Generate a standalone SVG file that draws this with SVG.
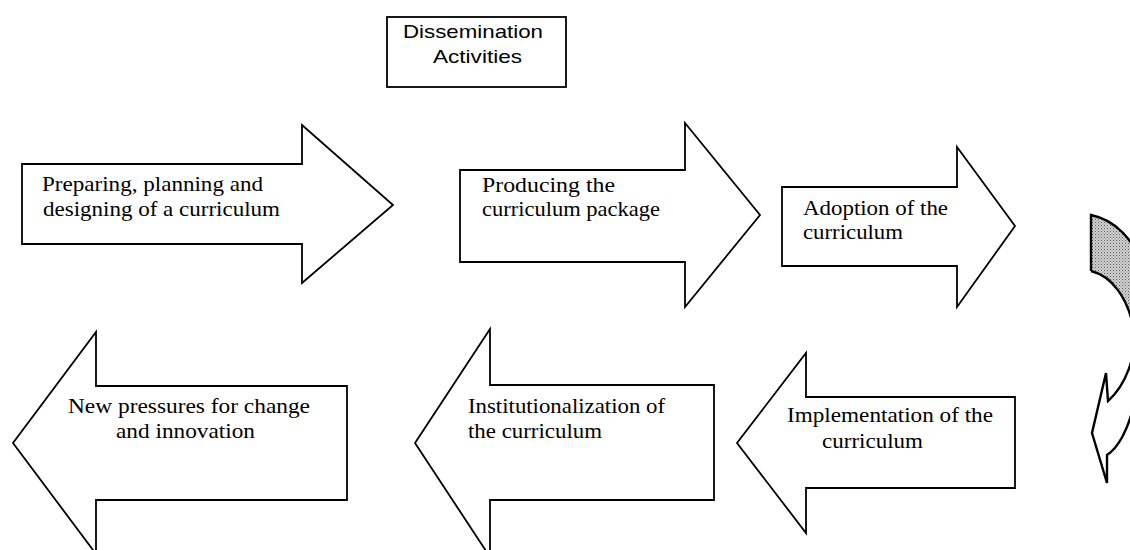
<svg xmlns="http://www.w3.org/2000/svg" width="1130" height="550" viewBox="0 0 1130 550">
  <defs>
    <!-- halftone shading for the back face of the curved arrow -->
    <pattern id="halftone" width="3" height="3" patternUnits="userSpaceOnUse">
      <rect width="3" height="3" fill="#d4d4d4"/>
      <rect x="0" y="0" width="1" height="1" fill="#555"/>
      <rect x="1.5" y="1.5" width="1" height="1" fill="#777"/>
    </pattern>
  </defs>
  <style>
    .block { fill: #ffffff; stroke: #000000; stroke-width: 1.8; stroke-linejoin: miter; }
    .label { font-family: "Liberation Serif", "Times New Roman", serif; font-size: 22px; fill: #000000; }
    .title { font-family: "Liberation Sans", Arial, sans-serif; font-size: 19px; fill: #000000; }
    .curve { fill: none; stroke: #000000; stroke-width: 2.4; stroke-linejoin: miter; }
  </style>
  <rect width="1130" height="550" fill="#ffffff"/>

  <g id="dissemination">
    <rect class="block" x="387" y="17" width="179" height="70"/>
    <text class="title" x="403" y="38" textLength="140" lengthAdjust="spacingAndGlyphs">Dissemination</text>
    <text class="title" x="433" y="63" textLength="89" lengthAdjust="spacingAndGlyphs">Activities</text>
  </g>

  <g id="preparing">
    <path class="block" d="M22,164 L302,164 L302,125 L393,205 L302,283 L302,244 L22,244 Z"/>
    <text class="label" x="42" y="191" textLength="221" lengthAdjust="spacingAndGlyphs">Preparing, planning and</text>
    <text class="label" x="43" y="216" textLength="237" lengthAdjust="spacingAndGlyphs">designing of a curriculum</text>
  </g>

  <g id="producing">
    <path class="block" d="M460,170 L685,170 L685,123 L760,215 L685,307 L685,262 L460,262 Z"/>
    <text class="label" x="482" y="192" textLength="133" lengthAdjust="spacingAndGlyphs">Producing the</text>
    <text class="label" x="482" y="216" textLength="178" lengthAdjust="spacingAndGlyphs">curriculum package</text>
  </g>

  <g id="adoption">
    <path class="block" d="M782,187 L957,187 L957,147 L1015,226 L957,307 L957,266 L782,266 Z"/>
    <text class="label" x="803" y="215" textLength="145" lengthAdjust="spacingAndGlyphs">Adoption of the</text>
    <text class="label" x="803" y="239" textLength="100" lengthAdjust="spacingAndGlyphs">curriculum</text>
  </g>

  <g id="implementation">
    <path class="block" d="M1015,397 L806,397 L806,353 L737,443 L806,533 L806,488 L1015,488 Z"/>
    <text class="label" x="787" y="422" textLength="206" lengthAdjust="spacingAndGlyphs">Implementation of the</text>
    <text class="label" x="822" y="448" textLength="101" lengthAdjust="spacingAndGlyphs">curriculum</text>
  </g>

  <g id="institutionalization">
    <path class="block" d="M714,385 L490,385 L490,329 L415,443 L490,557 L490,500 L714,500 Z"/>
    <text class="label" x="468" y="413" textLength="197" lengthAdjust="spacingAndGlyphs">Institutionalization of</text>
    <text class="label" x="468" y="438" textLength="134" lengthAdjust="spacingAndGlyphs">the curriculum</text>
  </g>

  <g id="new-pressures">
    <path class="block" d="M347,386 L96,386 L96,332 L13,443 L96,554 L96,500 L347,500 Z"/>
    <text class="label" x="68" y="413" textLength="242" lengthAdjust="spacingAndGlyphs">New pressures for change</text>
    <text class="label" x="116" y="438" textLength="139" lengthAdjust="spacingAndGlyphs">and innovation</text>
  </g>

  <!-- curved return arrow from the top row down to the bottom row -->
  <g id="connectors">
    <path d="M1091,215 C1115,220 1135,240 1140,265 L1140,330 L1134,330 C1128,298 1112,276 1091,271 Z" fill="url(#halftone)" stroke="none"/>
    <path class="curve" d="M1140,265 C1135,240 1115,220 1091,215 L1091,271"/>
    <path class="curve" d="M1091,271 C1112,276 1128,298 1134,330 C1137,355 1126,385 1108,401 L1106,373 L1092,433 L1107,483 L1107,455 C1118,448 1128,430 1134,405"/>
  </g>
</svg>
